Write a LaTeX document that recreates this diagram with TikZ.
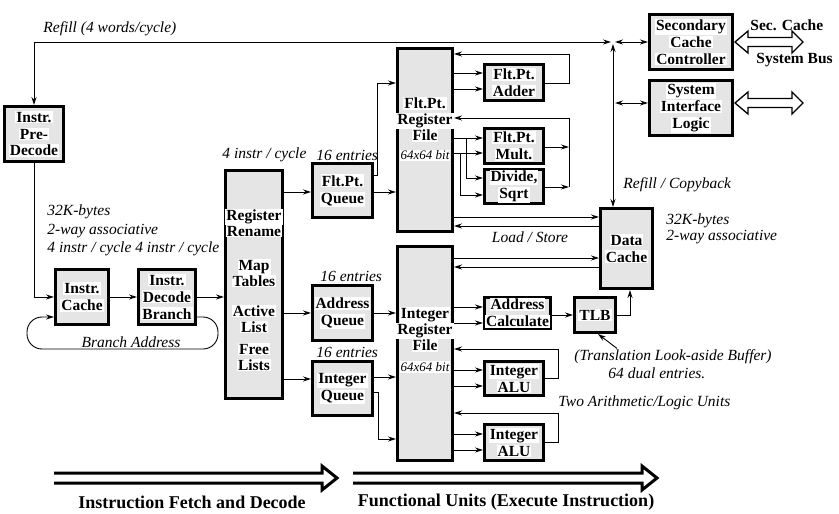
\documentclass[tikz,border=0pt]{standalone}
\usepackage{fontspec}
\setmainfont{Liberation Serif}
\usetikzlibrary{arrows.meta}
\definecolor{unitgray}{gray}{0.9}
\newcommand{\wbox}[1]{{\setlength{\fboxsep}{1pt}\colorbox{white}{#1}}}
\setlength{\lineskiplimit}{-20pt}

\begin{document}
\begin{tikzpicture}[x=1pt, y=-1pt, line width=0.9pt, >={Stealth[length=8pt,width=5pt]},
    unit/.style={draw, line width=3pt, fill=unitgray, inner sep=0pt, align=center,
        font=\fontsize{15.5}{17}\selectfont\bfseries},
    boxtext/.style={inner sep=0pt, align=center, font=\fontsize{15.5}{16}\selectfont\bfseries},
    note/.style={inner sep=1pt, font=\fontsize{15.5}{17}\selectfont\itshape},
    busnote/.style={inner sep=1pt, font=\fontsize{15.5}{17}\selectfont\bfseries},
    stage/.style={inner sep=1pt, font=\fontsize{18}{20}\selectfont\bfseries},
    bus/.style={line width=1.3pt, line join=miter},
    flow/.style={line width=3pt, line join=miter}]
    \useasboundingbox (0,0) rectangle (839,514);

    % fetch and decode
    \node[unit, minimum width=59, minimum height=55] (predecode) at (34,134) {\wbox{Instr.}\\\wbox{Pre-}\\\wbox{Decode}};
    \node[unit, minimum width=53, minimum height=55] (icache) at (82,297) {\wbox{Instr.}\\\wbox{Cache}};
    \node[unit, minimum width=57, minimum height=55] (decode) at (167,297) {\wbox{Instr.}\\\wbox{Decode}\\\wbox{Branch}};
    \node[unit, minimum width=57, minimum height=228] (rename) at (254,284) {};
    \node[boxtext] (renametxt) at (254,290) {\wbox{Register}\\\wbox{Rename}\\[18pt]\wbox{Map}\\\wbox{Tables}\\[14pt]\wbox{Active}\\\wbox{List}\\[6pt]\wbox{Free}\\\wbox{Lists}};

    % queues
    \node[unit, minimum width=60, minimum height=54] (fpq) at (342.5,190.5) {\wbox{Flt.Pt.}\\\wbox{Queue}};
    \node[unit, minimum width=60, minimum height=55] (addrq) at (342.5,313) {\wbox{Address}\\\wbox{Queue}};
    \node[unit, minimum width=60, minimum height=54] (intq) at (342.5,388.5) {\wbox{Integer}\\\wbox{Queue}};

    % register files
    \node[unit, minimum width=55, minimum height=183] (fprf) at (425,140) {};
    \node[boxtext] (fprftxt) at (425,129)
        {\wbox{Flt.Pt.}\\\wbox{Register}\\\wbox{File}\\[3pt]\wbox{\fontsize{13}{13}\selectfont\mdseries\itshape 64x64 bit}};
    \node[unit, minimum width=55, minimum height=214] (intrf) at (425,353.5) {};
    \node[boxtext] (intrftxt) at (425,340)
        {\wbox{Integer}\\\wbox{Register}\\\wbox{File}\\[5pt]\wbox{\fontsize{13}{13}\selectfont\mdseries\itshape 64x64 bit}};

    % functional units
    \node[unit, minimum width=59, minimum height=36] (fpadd) at (514,82.5) {\wbox{Flt.Pt.}\\\wbox{Adder}};
    \node[unit, minimum width=59, minimum height=35] (fpmul) at (514,146) {\wbox{Flt.Pt.}\\\wbox{Mult.}};
    \node[unit, minimum width=59, minimum height=34] (fpdiv) at (514,186.5) {\wbox{Divide,}\\\wbox{Sqrt}};
    \node[unit, minimum width=66, minimum height=31] (addrcalc) at (517.5,313) {\wbox{Address}\\\wbox{Calculate}};
    \node[unit, minimum width=41, minimum height=35] (tlb) at (595,315) {\wbox{TLB}};
    \node[unit, minimum width=59, minimum height=34] (alu1) at (514,378.5) {\wbox{Integer}\\\wbox{ALU}};
    \node[unit, minimum width=59, minimum height=36] (alu2) at (514,442.5) {\wbox{Integer}\\\wbox{ALU}};
    \node[unit, minimum width=52, minimum height=80] (dcache) at (626.5,248.5) {\wbox{Data}\\\wbox{Cache}};
    \node[unit, minimum width=83, minimum height=55] (scc) at (691,42) {\wbox{Secondary}\\\wbox{Cache}\\\wbox{Controller}};
    \node[unit, minimum width=83, minimum height=55] (sil) at (691,108) {\wbox{System}\\\wbox{Interface}\\\wbox{Logic}};

    % labels
    \node[note, anchor=west] (refilltxt) at (42,29) {Refill (4 words/cycle)};
    \node[note, anchor=west] (ratetxt) at (221,155) {4 instr / cycle};
    \node[note, anchor=west] (fpqsize) at (315,155) {16 entries};
    \node[note, anchor=west] (ictxt1) at (46,212) {32K-bytes};
    \node[note, anchor=west] (ictxt2) at (46,231) {2-way associative};
    \node[note, anchor=west] (ictxt3) at (46,249) {4 instr / cycle 4 instr / cycle};
    \node[note] (branchtxt) at (131,342) {Branch Address};
    \node[note, anchor=west] (addrqsize) at (319,276) {16 entries};
    \node[note, anchor=west] (intqsize) at (315,352) {16 entries};
    \node[note] (lstxt) at (530,237) {Load / Store};
    \node[note, anchor=west] (copytxt) at (622,185) {Refill / Copyback};
    \node[note, anchor=west] (dctxt1) at (665,221) {32K-bytes};
    \node[note, anchor=west] (dctxt2) at (665,237) {2-way associative};
    \node[note, anchor=west] (tlbnote) at (573,357) {(Translation Look-aside Buffer)};
    \node[note, anchor=west] (tlbsize) at (607,373) {64 dual entries.};
    \node[note, anchor=west] (alutxt) at (557,403) {Two Arithmetic/Logic Units};
    \node[busnote, anchor=west] (sectxt) at (749,25) {Sec. Cache};
    \node[busnote, anchor=west] (bustxt) at (755,60) {System Bus};
    \node[stage] (fetchtxt) at (192,502) {Instruction Fetch and Decode};
    \node[stage] (exectxt) at (506,502) {Functional Units (Execute Instruction)};

    % refill bus
    \coordinate (junc) at (611,42);
    \coordinate (vtop) at (613,44);
    \coordinate (sccbus) at (615,42);
    \coordinate (silbus) at (615,103);
    \draw[<->] (predecode.north) |- (junc);
    \draw[<->] (vtop) -- (vtop |- dcache.north);
    \draw[<->] (sccbus) -- (scc.west);
    \draw[<->] (silbus) -- (silbus -| sil.west);

    % fetch path
    \draw[->] (predecode.south) |- (icache.west);
    \draw[->] (icache) -- (decode);
    \draw[->] (decode.east) -- (decode.east -| rename.west);
    \draw[->, rounded corners=15pt] ([yshift=-20pt]decode.east) -- (218,317) -- (218,349) -- (27,349) -- (27,317) -- ([yshift=-20pt]icache.west);

    % rename to queues
    \draw[->] (rename.east |- 0,192) -- (fpq.west |- 0,192);
    \draw[->] (rename.east |- addrq) -- (addrq.west);
    \draw[->] (rename.east |- 0,379) -- (intq.west |- 0,379);

    % queues to register files
    \draw[->] (fpq.east |- 0,192) -- (fprf.west |- 0,192);
    \draw[->] (fpq.east |- 0,175) -- (377,175) |- (fprf.west |- 0,83);
    \draw[->] (addrq.east) -- (intrf.west |- addrq);
    \draw[->] (intq.east |- 0,377) -- (intrf.west |- 0,377);
    \draw[->] (intq.east |- 0,392) -- (378,392) |- (intrf.west |- 0,439);

    % floating point units
    \draw[->] (fprf.east |- 0,73) -- (fpadd.west |- 0,73);
    \draw[->] (fprf.east |- 0,89) -- (fpadd.west |- 0,89);
    \draw[->] (fpadd.east |- 0,83) -- (569,83) |- (fprf.east |- 0,54);
    \draw[->] (fprf.east |- 0,138) -- (fpmul.west |- 0,138);
    \draw[->] (fprf.east |- 0,153) -- (fpmul.west |- 0,153);
    \draw[->] (466,138) |- (fpdiv.west |- 0,178);
    \draw[->] (460,153) |- (fpdiv.west |- 0,195);
    \draw[->] (fpmul.east |- 0,147) -- (569,147);
    \draw[->] (fpdiv.east |- 0,187) -- (569,187);
    \draw[->] (569,187) |- (fprf.east |- 0,118);

    % load / store
    \draw[->] (fprf.east |- 0,217) -- (dcache.west |- 0,217);
    \draw[->] (dcache.west |- 0,226) -- (fprf.east |- 0,226);
    \draw[->] (intrf.east |- 0,258) -- (dcache.west |- 0,258);
    \draw[->] (dcache.west |- 0,267) -- (intrf.east |- 0,267);

    % integer units
    \draw[->] (intrf.east |- 0,307) -- (addrcalc.west |- 0,307);
    \draw[->] (intrf.east |- 0,323) -- (addrcalc.west |- 0,323);
    \draw[->] (addrcalc.east |- tlb) -- (tlb.west);
    \draw[->] (tlb.east) -| (dcache.south -| 630,0);
    \draw[->] ([xshift=44pt]tlbnote.north west) -- ([xshift=3pt]tlb.south);
    \draw[->] (intrf.east |- 0,370) -- (alu1.west |- 0,370);
    \draw[->] (intrf.east |- 0,386) -- (alu1.west |- 0,386);
    \draw[->] (alu1.east |- 0,378) -- (558,378) |- (intrf.east |- 0,349);
    \draw[->] (intrf.east |- 0,434) -- (alu2.west |- 0,434);
    \draw[->] (intrf.east |- 0,450) -- (alu2.west |- 0,450);
    \draw[->] (alu2.east |- 0,442) -- (558,442) |- (intrf.east |- 0,413);

    % external buses
    \foreach \y in {42,103} {
        \draw[bus] (735,\y) -- ++(13,-11) -- ++(0,6.5) -- ++(44,0) -- ++(0,-6.5) -- ++(11,11)
            -- ++(-11,11) -- ++(0,-6.5) -- ++(-44,0) -- ++(0,6.5) -- cycle;
    }

    % pipeline stages
    \draw[flow] (54,473) -- (322,473) -- (322,466) -- (337,478) -- (322,490) -- (322,483) -- (54,483);
    \draw[flow] (353,473) -- (642,473) -- (642,466) -- (657,478) -- (642,490) -- (642,483) -- (353,483);
\end{tikzpicture}
\end{document}
